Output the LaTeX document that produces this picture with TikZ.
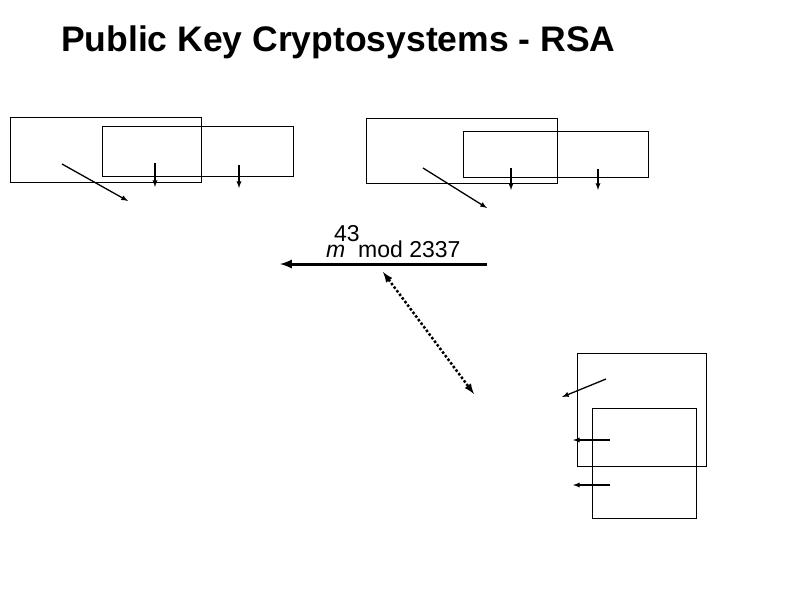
\documentclass[tikz,border=0pt]{standalone}
\usepackage{fontspec}
\setmainfont{Liberation Sans}
\begin{document}
\begin{tikzpicture}[x=1pt,y=-1pt,
  kbox/.style={draw,line width=0.8pt},
  karr/.style={->,>=latex,line width=1.3pt},
  mnode/.style={inner sep=0pt,font=\fontsize{23}{26}\selectfont}]
  \useasboundingbox (0,0) rectangle (794,595);
  \node[anchor=base west,inner sep=0pt,font=\bfseries\fontsize{35.5}{40}\selectfont] (title) at (61,51) {Public Key Cryptosystems - RSA};

  % left pair of boxes
  \draw[kbox] (10,117) rectangle (201,182);
  \draw[kbox] (102,126) rectangle (293,176);
  \coordinate (a1) at (62,164); \coordinate (a2) at (128,201);
  \coordinate (b1) at (155,163); \coordinate (b2) at (155,187);
  \coordinate (c1) at (239,165); \coordinate (c2) at (239,188);
  \draw[karr] (a1) -- (a2);
  \draw[karr] (b1) -- (b2);
  \draw[karr] (c1) -- (c2);

  % right pair of boxes
  \draw[kbox] (366,118) rectangle (557,183);
  \draw[kbox] (463,131) rectangle (648,177);
  \coordinate (d1) at (423,168); \coordinate (d2) at (487,208);
  \coordinate (e1) at (511,168); \coordinate (e2) at (511,190);
  \coordinate (f1) at (598,169); \coordinate (f2) at (598,190);
  \draw[karr] (d1) -- (d2);
  \draw[karr] (e1) -- (e2);
  \draw[karr] (f1) -- (f2);

  % message
  \node[mnode,anchor=base west] (msg) at (326,257) {\textit{m}};
  \node[mnode,anchor=base west] (exp) at (334,241) {43};
  \node[mnode,anchor=base west] (mod) at (358,257) {mod 2337};
  \coordinate (s1) at (487,264); \coordinate (s2) at (280,264);
  \draw[->,>=latex,line width=3pt] (s1) -- (s2);
  \coordinate (t1) at (383,272); \coordinate (t2) at (474,394);
  \draw[<->,>=latex,line width=2.5pt,dotted] (t1) -- (t2);

  % lower boxes
  \draw[kbox] (577,353) rectangle (706,466);
  \draw[kbox] (592,408) rectangle (696,518);
  \coordinate (g1) at (606,379); \coordinate (g2) at (562,397);
  \coordinate (h1) at (610,440); \coordinate (h2) at (573,440);
  \coordinate (i1) at (610,485); \coordinate (i2) at (573,485);
  \draw[karr] (g1) -- (g2);
  \draw[karr] (h1) -- (h2);
  \draw[karr] (i1) -- (i2);
\end{tikzpicture}
\end{document}
